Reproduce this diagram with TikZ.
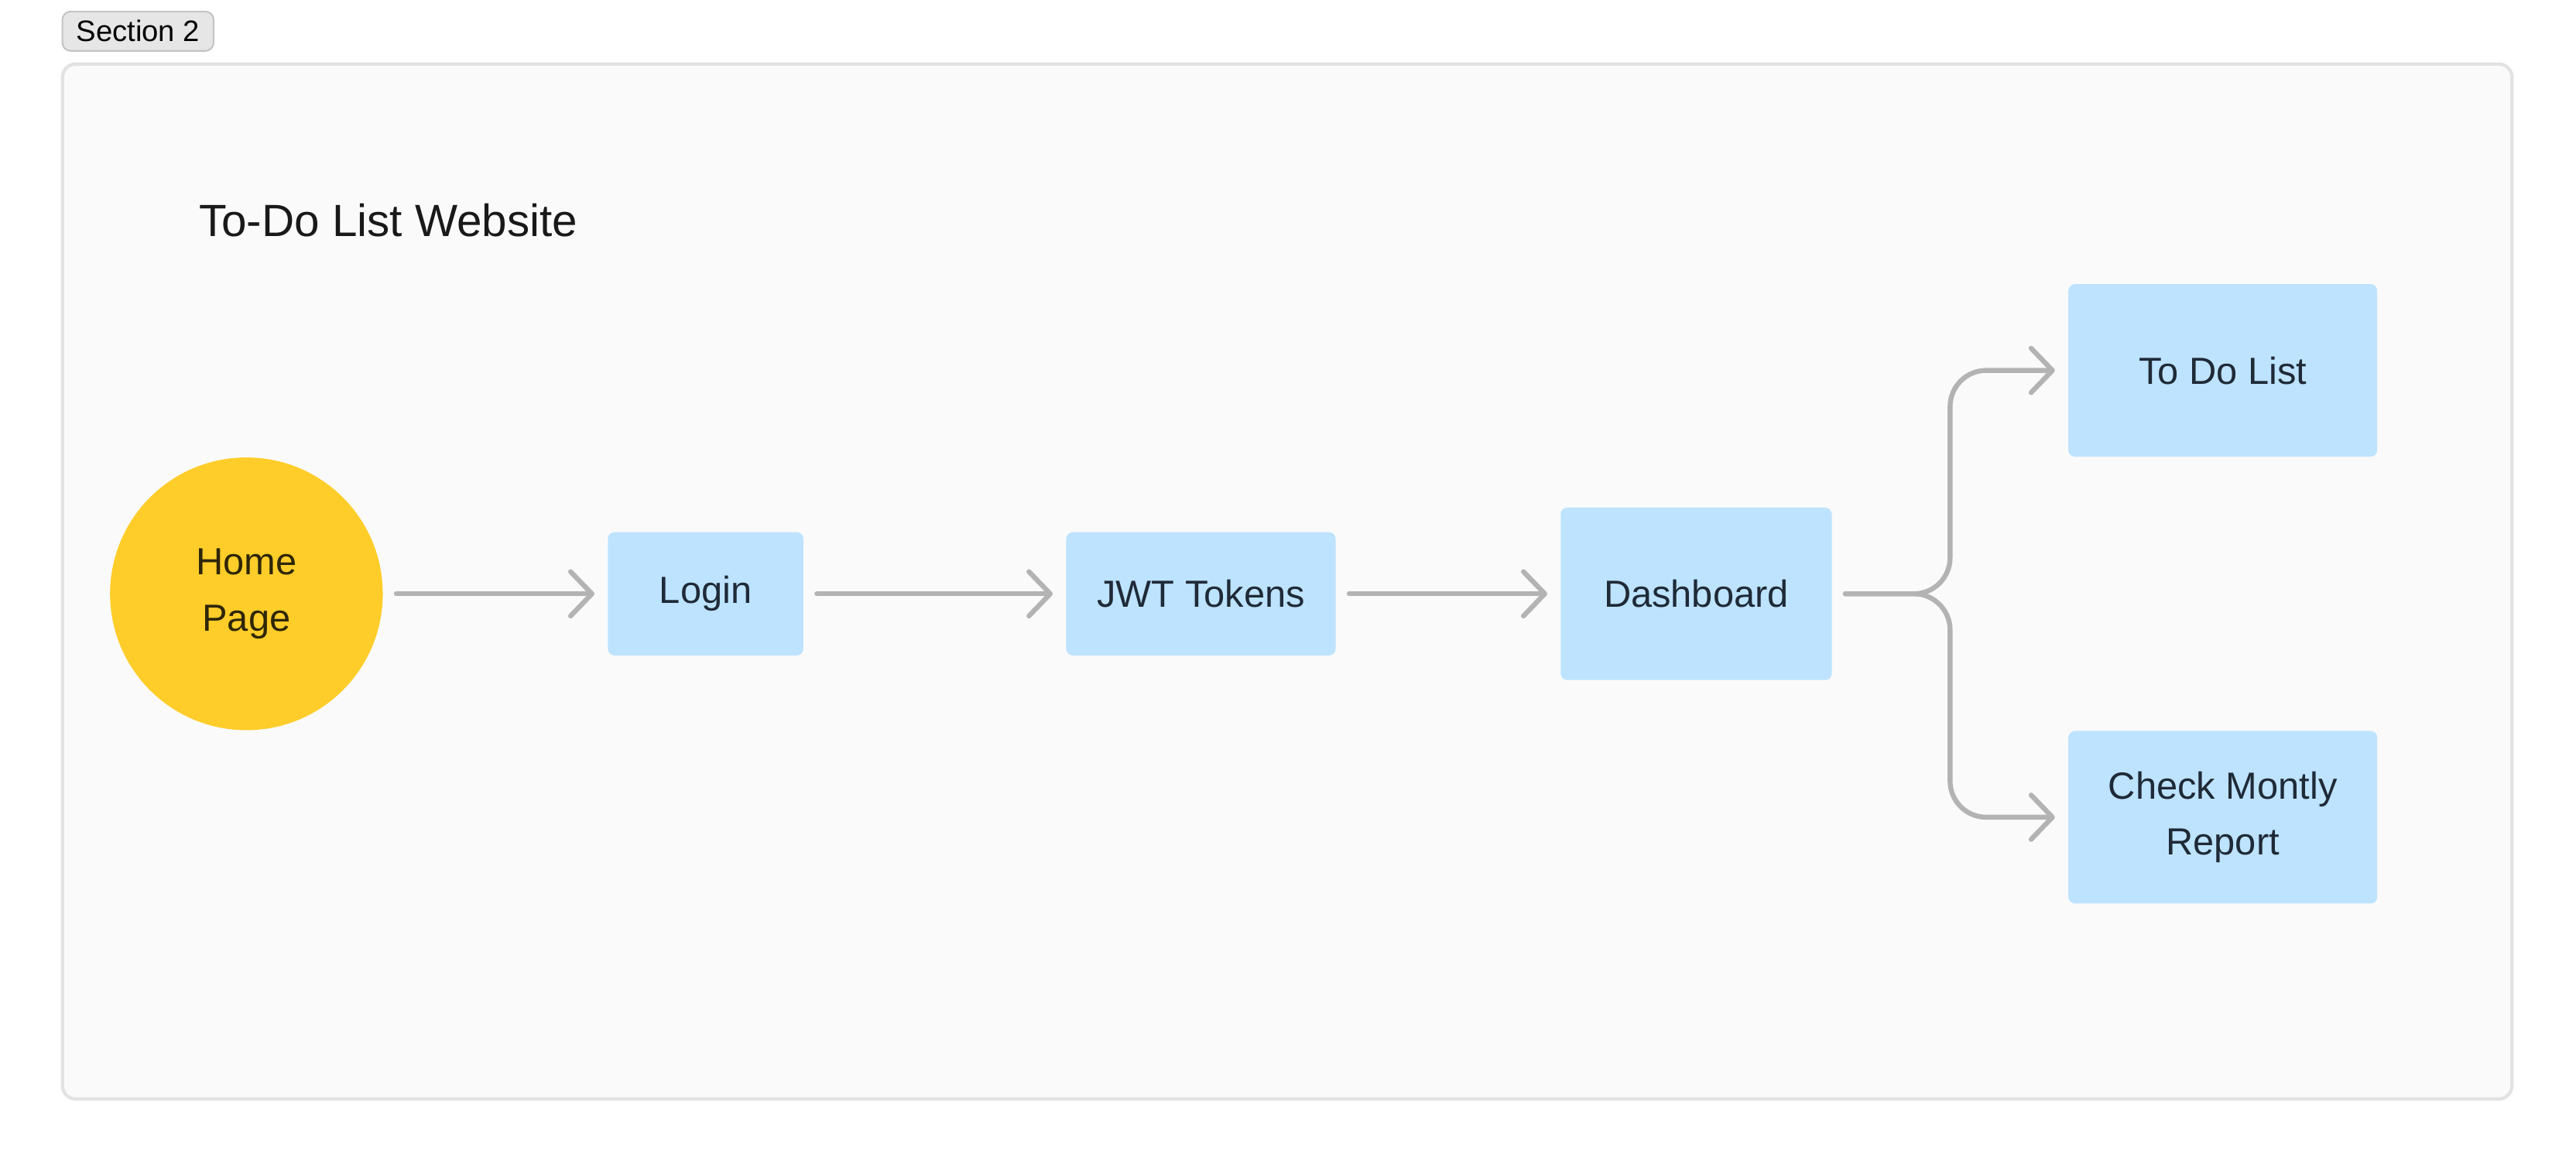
\documentclass[tikz,border=0pt]{standalone}
\usepackage{fontspec}
\setmainfont{Liberation Sans}
\usetikzlibrary{arrows.meta}
\definecolor{jamyellow}{HTML}{FFCD29}
\definecolor{jamblue}{HTML}{BDE3FF}
\definecolor{jamgray}{HTML}{B3B3B3}
\definecolor{secfill}{HTML}{FAFAFA}
\definecolor{secline}{HTML}{E2E2E2}
\definecolor{tagfill}{HTML}{E6E6E6}
\definecolor{tagline}{HTML}{C4C4C4}
\definecolor{ink}{HTML}{1F2A37}
\definecolor{homeink}{HTML}{2E2608}
\tikzset{
  card/.style={rectangle,fill=jamblue,rounded corners=4pt,inner sep=0pt,align=center,text=ink,font=\fontsize{23}{34}\selectfont},
  flow/.style={draw=jamgray,line width=3pt,line cap=round,-{Straight Barb[length=13pt,width=27pt,round]},shorten <=8pt,shorten >=8pt},
}
\begin{document}
\begin{tikzpicture}[x=1pt,y=-1pt]
            \useasboundingbox (0,0) rectangle (1568,708.6);
            \draw[fill=secfill,draw=secline,line width=2pt,rounded corners=8pt] (38,39) rectangle (1529,669);
            \node[draw=tagline,fill=tagfill,rounded corners=5pt,line width=1pt,minimum width=92pt,minimum height=24pt,inner sep=0pt,font=\fontsize{18}{20}\selectfont] (tag) at (84,19) {Section 2};
            \node[anchor=west,inner sep=0pt,text=black!90,font=\fontsize{27.5}{30}\selectfont] (title) at (121,134) {To-Do List Website};
            \node[circle,fill=jamyellow,minimum size=166pt,inner sep=0pt,align=center,text=homeink,font=\fontsize{23}{34}\selectfont] (home) at (150,361.5) {Home\\Page};
            \node[card,minimum width=119pt,minimum height=75pt] (login) at (429.5,361.5) {Login};
            \node[card,minimum width=164pt,minimum height=75pt] (jwt) at (731,361.5) {JWT Tokens};
            \node[card,minimum width=165pt,minimum height=105pt] (dash) at (1032.5,361.5) {Dashboard};
            \node[card,minimum width=188pt,minimum height=105pt] (todo) at (1353,225.5) {To Do List};
            \node[card,minimum width=188pt,minimum height=105pt] (report) at (1353,497.5) {Check Montly\\Report};
            \coordinate (fork) at (1187,361.5);
            \draw[flow] (home) -- (login);
            \draw[flow] (login) -- (jwt);
            \draw[flow] (jwt) -- (dash);
            \draw[flow,rounded corners=22pt] (dash.east) -| (fork |- todo.west) -- (todo.west);
            \draw[flow,rounded corners=22pt] (dash.east) -| (fork |- report.west) -- (report.west);
            \end{tikzpicture}
\end{document}
